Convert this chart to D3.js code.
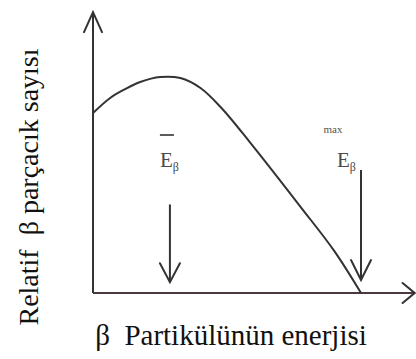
<!DOCTYPE html>
<html>
<head>
<meta charset="utf-8">
<script src="https://cdn.jsdelivr.net/npm/d3@7"></script>
<style>
  html, body { margin: 0; padding: 0; background: #fff; }
  svg { display: block; }
  text { white-space: pre; }
</style>
</head>
<body>
<script>
// Beta spectrum: relative number of particles against energy (E / Emax)
const energy = [0, 0.064, 0.12, 0.176, 0.251, 0.326, 0.401, 0.476, 0.588, 0.775, 0.9, 1.0];
const counts = [83.3, 90.3, 94.4, 97.7, 100, 99.5, 94.9, 86.1, 69.4, 39.8, 19.5, 0];
const meanEnergy = 0.287;
const maxEnergy = 1.0;
const xTitle = "β  Partikülünün enerjisi";
const yTitle = "Relatif  β parçacık sayısı";

const W = 416, H = 359;
const ink = "#333";
const serif = "Liberation Serif";
const svg = d3.select("body").append("svg").attr("width", W).attr("height", H);

const x = d3.scaleLinear().domain([0, 1]).range([93, 361]);
const y = d3.scaleLinear().domain([0, 100]).range([293, 77]);
const xEnd = 1.2, yEnd = 130;

// open V-shaped arrowhead ending at (tx,ty) pointing along (dx,dy)
function arrowHead(g, tx, ty, dx, dy, len, half) {
  const px = -dy, py = dx;
  const bx = tx - dx * len, by = ty - dy * len;
  g.append("path")
    .attr("d", `M${bx + px * half},${by + py * half}L${tx},${ty}L${bx - px * half},${by - py * half}`)
    .attr("fill", "none").attr("stroke", ink).attr("stroke-width", 2)
    .attr("stroke-linejoin", "miter").attr("stroke-linecap", "round");
}

const axes = svg.append("g");
axes.append("line").attr("x1", x(0)).attr("y1", y(0)).attr("x2", x(xEnd)).attr("y2", y(0))
  .attr("stroke", "#4a3a3e").attr("stroke-width", 2);
axes.append("line").attr("x1", x(0)).attr("y1", y(0)).attr("x2", x(0)).attr("y2", y(yEnd))
  .attr("stroke", ink).attr("stroke-width", 2);
arrowHead(axes, x(xEnd), y(0), 1, 0, 12, 10);
arrowHead(axes, x(0), y(yEnd), 0, -1, 20, 9);

// spectrum curve
const line = d3.line()
  .x((d, i) => x(energy[i]))
  .y((d, i) => y(counts[i]))
  .curve(d3.curveCatmullRom.alpha(0.5));
svg.append("path").datum(counts).attr("d", line)
  .attr("fill", "none").attr("stroke", ink).attr("stroke-width", 2);

// marker arrows for mean and maximum energy
const marks = svg.append("g");
marks.append("line").attr("x1", x(meanEnergy)).attr("x2", x(meanEnergy))
  .attr("y1", y(41)).attr("y2", y(5)).attr("stroke", ink).attr("stroke-width", 2);
arrowHead(marks, x(meanEnergy), y(5), 0, 1, 19, 10);
marks.append("line").attr("x1", x(maxEnergy)).attr("x2", x(maxEnergy))
  .attr("y1", y(57)).attr("y2", y(6)).attr("stroke", ink).attr("stroke-width", 2);
arrowHead(marks, x(maxEnergy), y(6), 0, 1, 20, 10);

// labels
const lab = "#4a4a4a";
const meanLab = svg.append("text").attr("x", x(meanEnergy) - 10).attr("y", 167)
  .style("font-family", serif).style("font-size", "21px").attr("fill", lab);
meanLab.append("tspan").text("E");
meanLab.append("tspan").style("font-size", "12px").attr("dy", 4).text("β");
svg.append("line").attr("x1", x(meanEnergy) - 10).attr("x2", x(meanEnergy) + 4)
  .attr("y1", 135).attr("y2", 135).attr("stroke", lab).attr("stroke-width", 1.8);

svg.append("text").attr("x", 333).attr("y", 133).attr("text-anchor", "middle")
  .style("font-family", serif).style("font-size", "11px").attr("fill", "#555").text("max");
const maxLab = svg.append("text").attr("x", 337).attr("y", 167)
  .style("font-family", serif).style("font-size", "21px").attr("fill", lab);
maxLab.append("tspan").text("E");
maxLab.append("tspan").style("font-size", "12px").attr("dy", 4).text("β");

// axis titles
svg.append("text").attr("x", 231).attr("y", 345).attr("text-anchor", "middle")
  .style("font-family", serif).style("font-size", "29px").attr("fill", "#111").text(xTitle);
svg.append("text").attr("transform", "translate(38,187) rotate(-90)").attr("text-anchor", "middle")
  .style("font-family", serif).style("font-size", "28px").attr("fill", "#111").text(yTitle);
</script>
</body>
</html>
